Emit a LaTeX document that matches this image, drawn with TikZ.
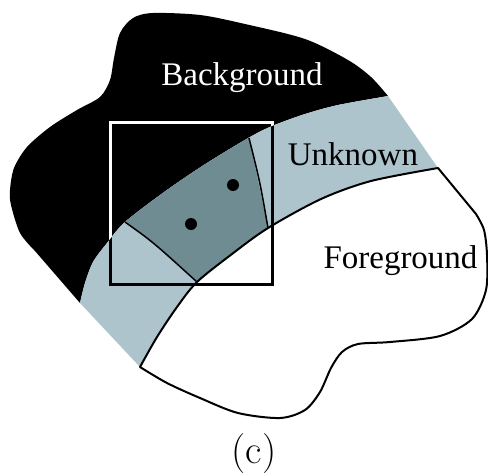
\documentclass[tikz,border=0pt]{standalone}
\usepackage{fontspec}
\newfontfamily\tnr{Liberation Serif}
\definecolor{bandlight}{RGB}{174,196,205}
\definecolor{banddark}{RGB}{111,140,147}
\begin{document}
\begin{tikzpicture}[x=1pt,y=-1pt,
  lbl/.style={anchor=base, inner sep=0pt, font=\tnr\fontsize{33}{33}\selectfont},
  outline/.style={line width=2pt, line join=round},
  radial/.style={line width=1.5pt},
  dotnode/.style={circle, fill=black, inner sep=0pt, minimum size=12pt},
  sq/.style={line width=3pt}]
\def\blobpath{(80,303) -- (35,251) -- plot[smooth] coordinates {(35,251) (20,233) (11,205) (10,190) (14,168) (27,147) (50,127) (77,110) (100,97) (110,80) (114,58) (120,33) (133,18) (153,13) (200,15) (245,24) (305,39) (348,60) (371,77) (388,96)} -- plot[smooth] coordinates {(388,96) (338,105) (305,114) (272,126) (250,137) (207,163) (167,190) (125,222) (107,243) (93,262) (85,283) (80,303)} -- cycle}
\def\bandpath{(80,303) -- plot[smooth] coordinates {(80,303) (85,283) (93,262) (107,243) (125,222) (167,190) (207,163) (250,137) (272,126) (305,114) (338,105) (388,96)} -- (438,168) -- plot[smooth] coordinates {(438,168) (371,181) (321,199) (268,228) (232,254) (197,282) (177,307) (157,337) (140,367)} -- cycle}
\useasboundingbox (0,0) rectangle (488,475);
\fill[white] (0,0) rectangle (488,475);
% background blob
\fill[black] \blobpath;
% unknown band
\fill[bandlight] \bandpath;
% dark window part
\coordinate (L1) at (125,222);
\coordinate (L2) at (197,282);
\coordinate (R1) at (249,138);
\coordinate (R2) at (268,228);
\begin{scope}
  \clip \bandpath;
  \fill[banddark] (233,312) -- (L2) .. controls (153,242) .. (L1) -- (89,192) -- (244,115) -- (R1) -- (R2) -- (273,251) -- cycle;
\end{scope}
% foreground
\filldraw[fill=white, outline] plot[smooth] coordinates {(140,367) (157,337) (177,307) (197,282) (232,254) (268,228) (321,199) (371,181) (438,168)} -- (476,214) -- plot[smooth] coordinates {(476,214) (484,230) (487,255) (486,290) (472,319) (440,336) (390,342) (358,344) (342,352) (331,368) (320,392) (305,410) (280,418) (238,413) (200,398) (167,383) (140,367)} -- cycle;
% radial lines
\draw[radial] (L2) .. controls (153,242) .. (L1);
\draw[radial] (R1) .. controls (260,182) .. (R2);
% dots
\node[dotnode] (d1) at (233,185) {};
\node[dotnode] (d2) at (191,224) {};
% window square
\draw[sq] (110,122) rectangle (272,284);
\begin{scope}
  \clip \blobpath;
  \draw[sq, white] (110,122) rectangle (272,284);
\end{scope}
% labels
\node[lbl, text=white] (bg) at (242,85) {Background};
\node[lbl] (unk) at (353,165) {Unknown};
\node[lbl] (fg) at (400.5,268) {Foreground};
\node[anchor=base, inner sep=0pt, font=\fontsize{40}{40}\selectfont] (cap) at (254,463) {(c)};
\end{tikzpicture}
\end{document}
